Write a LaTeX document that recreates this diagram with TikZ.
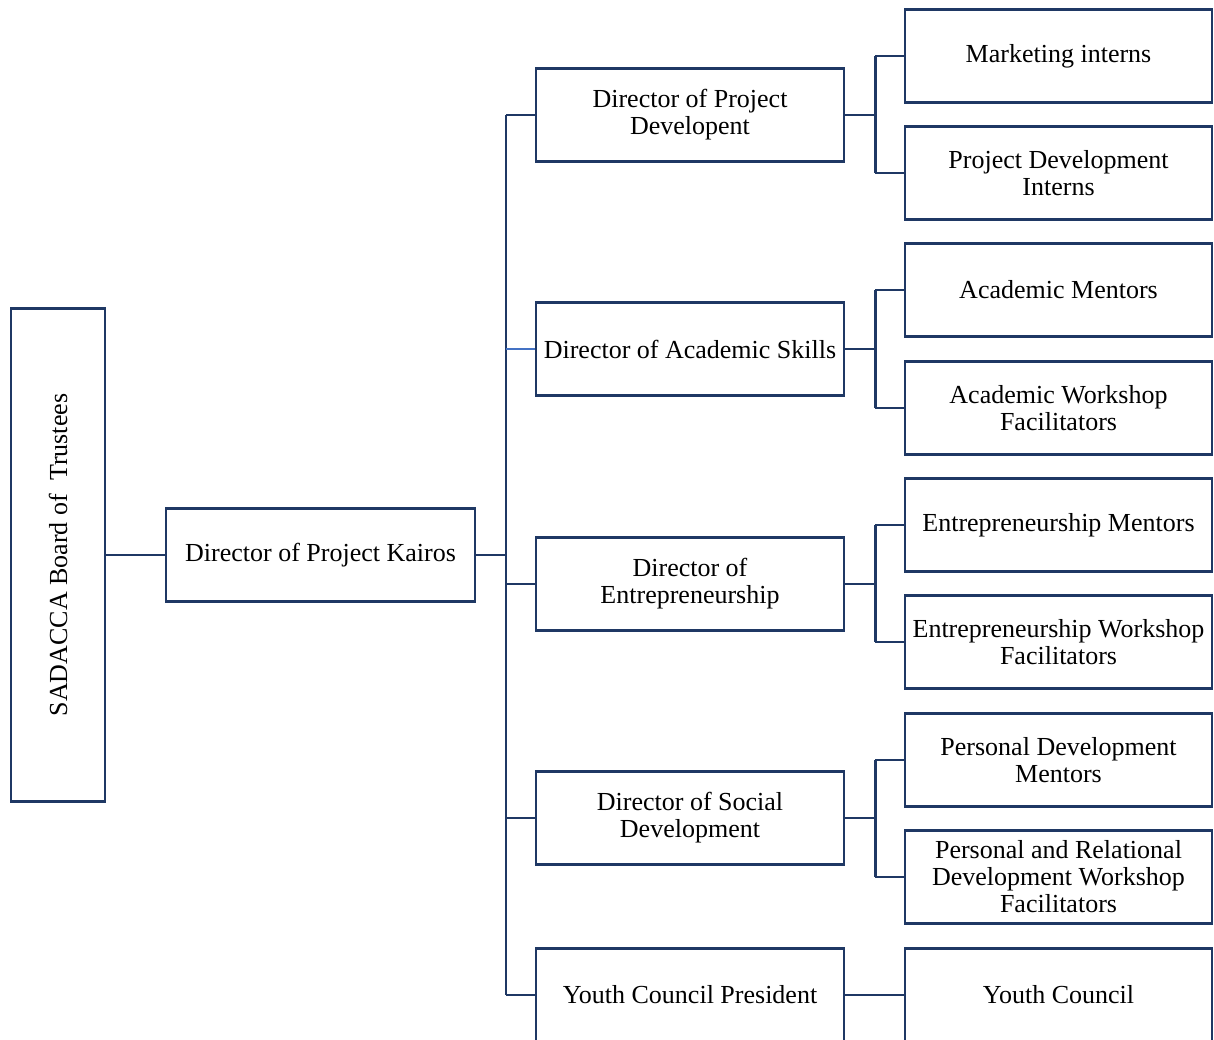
\documentclass[tikz,border=0pt]{standalone}
\usepackage{fontspec}
\setmainfont{Liberation Serif}
\definecolor{navy}{HTML}{1F3864}
\definecolor{lightnavy}{HTML}{4472C4}
\begin{document}
\begin{tikzpicture}[x=1pt,y=-1pt,
  orgbox/.style={draw=navy, line width=2.6pt, rectangle, align=center, inner sep=2pt,
    font=\fontsize{26}{27}\selectfont, text=black},
  midbox/.style={orgbox, minimum width=308, minimum height=93},
  rightbox/.style={orgbox, minimum width=307, minimum height=93},
  conn/.style={draw=navy, line width=2.4pt}]
\clip (0,0) rectangle (1214,1039);
\fill[white] (0,0) rectangle (1214,1039);

\node[orgbox, rotate=90, minimum width=493, minimum height=94] (sad) at (58,555) {SADACCA Board of\hspace{0.25em} Trustees};
\node[orgbox, minimum width=309, minimum height=93] (kai) at (320.5,555) {Director of Project Kairos};

\node[midbox] (pd) at (690,115) {Director of Project\\Developent};
\node[midbox] (as) at (690,349) {Director of Academic Skills};
\node[midbox] (en) at (690,584) {Director of\\Entrepreneurship};
\node[midbox] (so) at (690,818) {Director of Social\\Development};
\node[midbox] (yc) at (690,995) {Youth Council President};

\node[rightbox] (mi) at (1058.5,56) {Marketing interns};
\node[rightbox] (pdi) at (1058.5,173) {Project Development\\Interns};
\node[rightbox] (am) at (1058.5,290) {Academic Mentors};
\node[rightbox] (aw) at (1058.5,408) {Academic Workshop\\Facilitators};
\node[rightbox] (em) at (1058.5,525) {Entrepreneurship Mentors};
\node[rightbox] (ew) at (1058.5,642) {Entrepreneurship Workshop\\Facilitators};
\node[rightbox] (pm) at (1058.5,760) {Personal Development\\Mentors};
\node[rightbox] (pw) at (1058.5,877) {Personal and Relational\\Development Workshop\\Facilitators};
\node[rightbox] (yco) at (1058.5,995) {Youth Council};

% left connectors
\draw[conn] (sad.south) -- (kai.west);
\coordinate (t) at (506,555);
\draw[conn] (kai.east) -- (t);
\draw[conn] (t |- pd.west) -- (t |- yc.west);
\draw[conn] (t |- pd.west) -- (pd.west);
\draw[conn, draw=lightnavy] (t |- as.west) -- (as.west);
\draw[conn] (t |- en.west) -- (en.west);
\draw[conn] (t |- so.west) -- (so.west);
\draw[conn] (t |- yc.west) -- (yc.west);

% right connectors
\foreach \m/\a/\b in {pd/mi/pdi, as/am/aw, en/em/ew, so/pm/pw}{
  \coordinate (j\m) at ([xshift=30pt]\m.east);
  \draw[conn] (\m.east) -- (j\m);
  \draw[conn] (j\m |- \a.west) -- (j\m |- \b.west);
  \draw[conn] (j\m |- \a.west) -- (\a.west);
  \draw[conn] (j\m |- \b.west) -- (\b.west);
}
\draw[conn] (yc.east) -- (yco.west);
\end{tikzpicture}
\end{document}
